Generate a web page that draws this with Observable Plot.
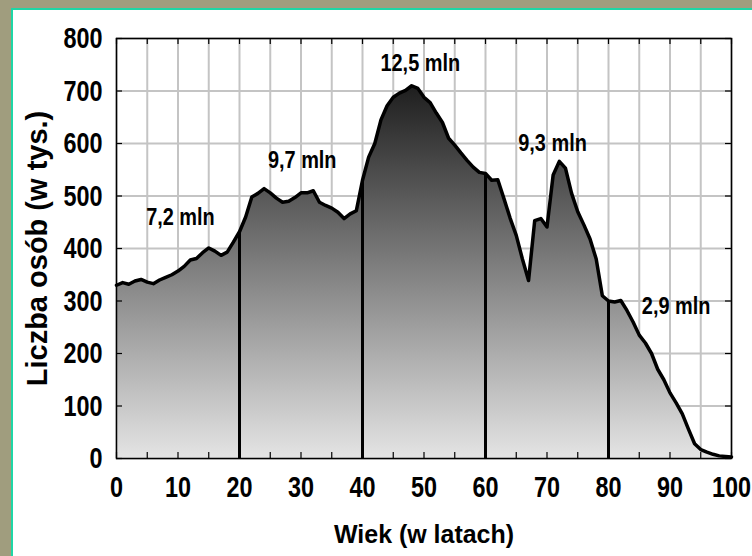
<!DOCTYPE html>
<html><head><meta charset="utf-8">
<script src="https://cdn.jsdelivr.net/npm/d3@7"></script>
<script src="https://cdn.jsdelivr.net/npm/@observablehq/plot@0.6"></script>
<style>
html,body{margin:0;padding:0;}
body{width:752px;height:556px;background:#a09d7e;position:relative;overflow:hidden;}
#panel{position:absolute;left:11px;top:8px;width:760px;height:570px;background:#fff;border:2px solid #1ed6a6;box-sizing:border-box;}
#chart{position:absolute;left:0;top:0;}
</style></head><body><div id="panel"></div><div id="chart"></div>
<script>
const ages = [0,1,2,3,4,5,6,7,8,9,10,11,12,13,14,15,16,17,18,19,20,21,22,23,24,25,26,27,28,29,30,31,32,33,34,35,36,37,38,39,40,41,42,43,44,45,46,47,48,49,50,51,52,53,54,55,56,57,58,59,60,61,62,63,64,65,66,67,68,69,70,71,72,73,74,75,76,77,78,79,80,81,82,83,84,85,86,87,88,89,90,91,92,93,94,95,96,97,98,99,100];
const population = [330,335,332,338,341,336,333,340,345,350,357,366,378,381,392,401,395,387,393,412,432,460,498,505,514,506,496,488,490,497,506,506,510,488,482,477,469,457,466,472,530,574,600,645,672,688,696,701,710,705,688,678,658,640,610,597,582,568,555,545,543,530,531,495,458,425,380,339,453,457,441,540,566,553,505,470,445,418,380,310,300,298,301,282,260,235,220,200,170,150,125,106,85,56,28,17,12,8,5,4,3];
const dividerAges = [20,40,60,80];
const groupLabels = ["7,2 mln","9,7 mln","12,5 mln","9,3 mln","2,9 mln"];
const groupLabelAge = [10.4,30.2,49.4,70.9,91];
const groupLabelValue = [459,568,752,600,290];
const xTickLabels = [0,10,20,30,40,50,60,70,80,90,100];
const xMinorTicks = [0,5,10,15,20,25,30,35,40,45,50,55,60,65,70,75,80,85,90,95,100];
const yTickLabels = [0,100,200,300,400,500,600,700,800];
const xTitle = "Wiek (w latach)";
const yTitle = "Liczba osób (w tys.)";

const data = ages.map((a, i) => ({age: a, value: population[i]}));
const dividers = dividerAges.map(a => ({age: a, value: population[ages.indexOf(a)]}));
const labels = groupLabels.map((t, i) => ({text: t, age: groupLabelAge[i], value: groupLabelValue[i]}));

const FONT = "'Liberation Sans', Arial, sans-serif";

const defs = () => {
  const g = d3.create("svg:defs");
  const lg = g.append("linearGradient").attr("id", "ageFill")
    .attr("x1", 0).attr("x2", 0).attr("y1", 0).attr("y2", 1);
  lg.append("stop").attr("offset", "0%").attr("stop-color", "#1e1e1e");
  lg.append("stop").attr("offset", "100%").attr("stop-color", "#e4e4e4");
  return g.node();
};

const chart = Plot.plot({
  width: 752, height: 556,
  marginLeft: 116, marginRight: 21, marginTop: 38, marginBottom: 98,
  x: {domain: [0, 100]},
  y: {domain: [0, 800]},
  style: {background: "transparent", fontFamily: FONT, overflow: "visible", color: "#000"},
  marks: [
    defs,
    Plot.gridX(xMinorTicks, {stroke: "#c4c4c4", strokeOpacity: 1, strokeWidth: 2}),
    Plot.gridY(yTickLabels, {stroke: "#c4c4c4", strokeOpacity: 1, strokeWidth: 2}),
    Plot.areaY(data, {x: "age", y: "value", fill: "url(#ageFill)"}),
    Plot.ruleX(dividers, {x: "age", y1: 0, y2: "value", stroke: "#000", strokeWidth: 3}),
    Plot.lineY(data, {x: "age", y: "value", stroke: "#000", strokeWidth: 3.5, strokeLinejoin: "round"}),
    Plot.frame({stroke: "#000", strokeWidth: 1.5}),
    Plot.ruleX(xMinorTicks, {y1: 0, y2: 0, insetTop: -6, stroke: "#000", strokeWidth: 1.2}),
    Plot.ruleX(xMinorTicks, {y1: 800, y2: 800, insetBottom: -6, stroke: "#000", strokeWidth: 1.2}),
    Plot.ruleY(yTickLabels, {x1: 0, x2: 0, insetRight: -6, stroke: "#000", strokeWidth: 1.2}),
    Plot.ruleY(yTickLabels, {x1: 100, x2: 100, insetLeft: -6, stroke: "#000", strokeWidth: 1.2}),
    Plot.axisX(xTickLabels, {tickSize: 0, tickPadding: 17, fontSize: 30, fontWeight: "bold", label: null, fontFamily: FONT}),
    Plot.axisY(yTickLabels, {tickSize: 0, tickPadding: 14, fontSize: 30, fontWeight: "bold", label: null, fontFamily: FONT}),
    Plot.text(labels, {x: "age", y: "value", text: "text", fontSize: 24, fontWeight: "bold", fontFamily: FONT, fill: "#000"}),
    Plot.text([xTitle], {frameAnchor: "bottom", dy: 76, lineAnchor: "middle", fontSize: 26, fontWeight: "bold", fontFamily: FONT, fill: "#000"}),
    Plot.text([yTitle], {frameAnchor: "left", dx: -79, rotate: -90, textAnchor: "middle", fontSize: 29, fontWeight: "bold", fontFamily: FONT, fill: "#000"})
  ]
});
document.getElementById("chart").append(chart);

function squeezeTexts(groups, k) {
  groups.forEach(g => g.querySelectorAll("text").forEach(t => {
    const x = +t.getAttribute("x") || 0;
    const y = +t.getAttribute("y") || 0;
    const tr = t.getAttribute("transform") || "";
    t.setAttribute("transform", `${tr} translate(${x},${y}) scale(${k},1) translate(${-x},${-y})`);
  }));
}
squeezeTexts(chart.querySelectorAll('g[aria-label="x-axis tick label"]'), 0.78);
squeezeTexts(chart.querySelectorAll('g[aria-label="y-axis tick label"]'), 0.78);
const textGroups = chart.querySelectorAll('g[aria-label="text"]');
squeezeTexts([textGroups[0]], 0.83);
squeezeTexts([textGroups[1]], 0.96);
</script>
</body></html>
